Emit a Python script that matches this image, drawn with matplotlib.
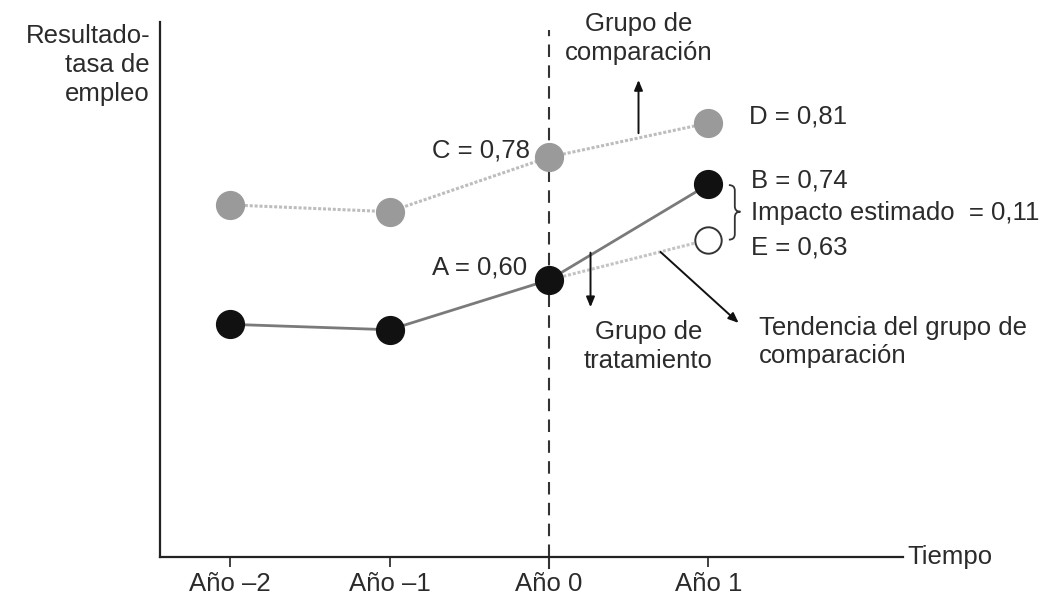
import matplotlib
matplotlib.use("Agg")
import matplotlib.pyplot as plt
from matplotlib.path import Path
from matplotlib.patches import PathPatch

# data (plotted positions; labels carry the printed values)
years = [-2, -1, 0, 1]
year_labels = ["Año –2", "Año –1", "Año 0", "Año 1"]
comparison = [0.71, 0.70, 0.78, 0.83]
treatment = [0.535, 0.527, 0.60, 0.74]
counterfactual_x = [0, 1]
counterfactual_y = [0.60, 0.659]

plt.rcParams["font.family"] = ["Liberation Sans", "DejaVu Sans"]
TXT = "#2b2b2b"
FS = 18.5
LS = 1.25

fig = plt.figure(figsize=(10.64, 6.04), dpi=100)
ax = fig.add_axes([0.1504, 0.0778, 0.6983, 0.8858])
ax.set_xlim(-2.44, 2.22)
ax.set_ylim(0.194, 0.978)

for s in ("top", "right"):
    ax.spines[s].set_visible(False)
for s in ("left", "bottom"):
    ax.spines[s].set_color("#222222")
    ax.spines[s].set_linewidth(1.6)

ax.set_xticks(years)
ax.set_xticklabels(year_labels, fontsize=FS, color=TXT)
ax.tick_params(axis="x", length=7.5, width=1.3, color="#333333", pad=3)
ax.set_yticks([])

# vertical dashed line at year 0
ax.axvline(0, ymin=0, ymax=0.985, color="#333333", lw=1.5, ls=(0, (6, 4)), zorder=1)
ax.plot([0, 0], [0.194, 0.178], color="#333333", lw=1.5, clip_on=False)

# lines
ax.plot(years, comparison, color="#bdbdbd", lw=2.2, ls=(0, (1, 0.6)), zorder=2)
ax.plot(years, treatment, color="#7a7a7a", lw=2.0, zorder=2)
ax.plot(counterfactual_x, counterfactual_y, color="#c4c4c4", lw=2.2, ls=(0, (1, 0.6)), zorder=2)

# markers
ax.plot(years, comparison, "o", ms=20, color="#9a9a9a", mec="#9a9a9a", zorder=4)
ax.plot(years, treatment, "o", ms=20, color="#111111", mec="#111111", zorder=4)
ax.plot(counterfactual_x[-1], counterfactual_y[-1], "o", ms=19, mfc="white",
        mec="#333333", mew=1.4, zorder=4)

# value labels
ax.text(-0.117, 0.790, "C = 0,78", ha="right", va="center", fontsize=FS, color=TXT)
ax.text(-0.136, 0.618, "A = 0,60", ha="right", va="center", fontsize=FS, color=TXT)
ax.text(1.252, 0.840, "D = 0,81", ha="left", va="center", fontsize=FS, color=TXT)
ax.text(1.264, 0.746, "B = 0,74", ha="left", va="center", fontsize=FS, color=TXT)
ax.text(1.264, 0.698, "Impacto estimado  = 0,11", ha="left", va="center", fontsize=FS,
        color=TXT, clip_on=False)
ax.text(1.264, 0.647, "E = 0,63", ha="left", va="center", fontsize=FS, color=TXT)

# brace between B and E
x0, x1, xt = 1.128, 1.165, 1.20
yt, yb, ym = 0.739, 0.659, 0.700
codes = [Path.MOVETO, Path.CURVE3, Path.CURVE3, Path.LINETO,
         Path.CURVE3, Path.CURVE3, Path.LINETO,
         Path.MOVETO, Path.CURVE3, Path.CURVE3, Path.LINETO,
         Path.CURVE3, Path.CURVE3]
verts = [(x0, yt), (x1, yt), (x1, yt - 0.008), (x1, ym + 0.008),
         (x1, ym), (xt, ym), (xt, ym),
         (xt, ym), (x1, ym), (x1, ym - 0.008), (x1, yb + 0.008),
         (x1, yb), (x0, yb)]
ax.add_patch(PathPatch(Path(verts, codes), fc="none", ec="#333333", lw=1.3, zorder=3))

# group annotations
arrow = dict(arrowstyle="-|>,head_length=0.6,head_width=0.25", color="#111111", lw=1.4,
             shrinkA=0, shrinkB=0)
ax.annotate("", xy=(0.561, 0.893), xytext=(0.561, 0.815), arrowprops=arrow)
ax.text(0.561, 0.954, "Grupo de\ncomparación", ha="center", va="center", fontsize=FS,
        color=TXT, linespacing=LS)

ax.annotate("", xy=(0.260, 0.560), xytext=(0.260, 0.640), arrowprops=arrow)
ax.text(0.624, 0.503, "Grupo de\ntratamiento", ha="center", va="center", fontsize=FS,
        color=TXT, linespacing=LS)

ax.annotate("", xy=(1.189, 0.537), xytext=(0.699, 0.641), arrowprops=arrow)
ax.text(1.315, 0.509, "Tendencia del grupo de\ncomparación", ha="left", va="center",
        fontsize=FS, color=TXT, linespacing=LS)

# axis titles
fig.text(0.141, 0.892, "Resultado-\ntasa de\nempleo", ha="right", va="center",
         multialignment="right", fontsize=FS, color=TXT, linespacing=LS)
fig.text(0.853, 1 - 557 / 604, "Tiempo", ha="left", va="center", fontsize=FS, color=TXT)

fig.savefig("out.png", dpi=100)
